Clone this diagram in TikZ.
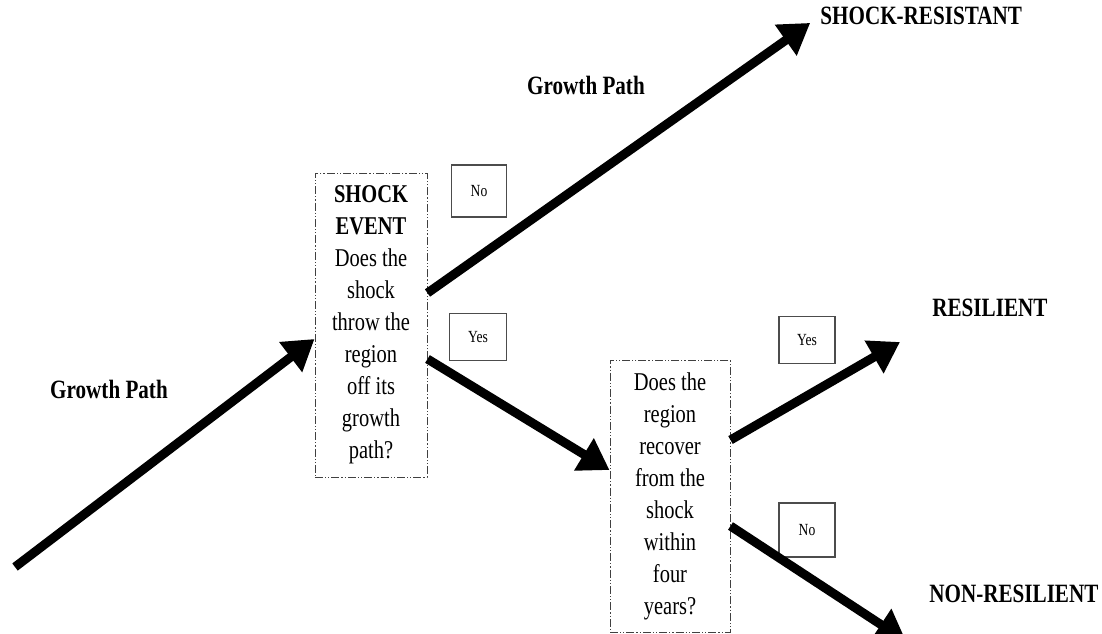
\documentclass[tikz,border=0pt]{standalone}
\usepackage{fontspec}
\setmainfont{Liberation Serif}[FakeStretch=0.8]
\usetikzlibrary{arrows.meta}
\begin{document}
\begin{tikzpicture}[x=0.5pt,y=-0.5pt,
    question/.style={draw=black!75,line width=0.5pt,
      dash pattern=on 4pt off 1pt on 0.6pt off 1pt on 0.6pt off 1pt,
      align=center,inner sep=0pt,font=\fontsize{12.8}{16}\selectfont},
    answer/.style={draw=black!70,line width=0.7pt,inner sep=0pt,
      font=\fontsize{8.5}{9}\selectfont},
    outcome/.style={anchor=west,inner sep=0pt,font=\fontsize{13.2}{14}\selectfont\bfseries},
    flow/.style={line width=4.5pt,-{Triangle[length=15pt,width=18pt]}}]
  \useasboundingbox (0,0) rectangle (1102,633);
  % decision boxes
  \node[question,minimum width=56pt,minimum height=152pt] (shock) at (371,325)
    {\textbf{SHOCK}\\\textbf{EVENT}\\Does the\\shock\\throw the\\region\\off its\\growth\\path?};
  \node[question,minimum width=60pt,minimum height=136pt] (recover) at (670,496)
    {Does the\\region\\recover\\from the\\shock\\within\\four\\years?};
  % answers
  \node[answer,minimum width=27.5pt,minimum height=26pt] (no1) at (479,191) {No};
  \node[answer,minimum width=28.5pt,minimum height=23.5pt] (yes1) at (478,337) {Yes};
  \node[answer,minimum width=28pt,minimum height=23.5pt] (yes2) at (807,340) {Yes};
  \node[answer,minimum width=28pt,minimum height=27pt] (no2) at (807,530) {No};
  % outcomes
  \node[outcome] (resist) at (820,16) {SHOCK-RESISTANT};
  \node[outcome] (resil) at (932,308) {RESILIENT};
  \node[outcome] (nonres) at (929,594) {NON-RESILIENT};
  \node[outcome,anchor=center] (path1) at (109,389) {Growth Path};
  \node[outcome,anchor=center] (path2) at (586,85) {Growth Path};
  \coordinate (start) at (15,567);
  \coordinate (resTip) at (900,342);
  \coordinate (nonTip) at (906,641);
  % arrows
  \draw[flow] (start) -- ([yshift=-7pt]shock.west);
  \draw[flow,shorten >=6pt] ([yshift=16pt]shock.east) -- (resist.west);
  \draw[flow] ([yshift=-17pt]shock.east) -- ([yshift=13pt]recover.west);
  \draw[flow] ([yshift=28pt]recover.east) -- (resTip);
  \draw[flow] ([yshift=-15pt]recover.east) -- (nonTip);
\end{tikzpicture}
\end{document}
